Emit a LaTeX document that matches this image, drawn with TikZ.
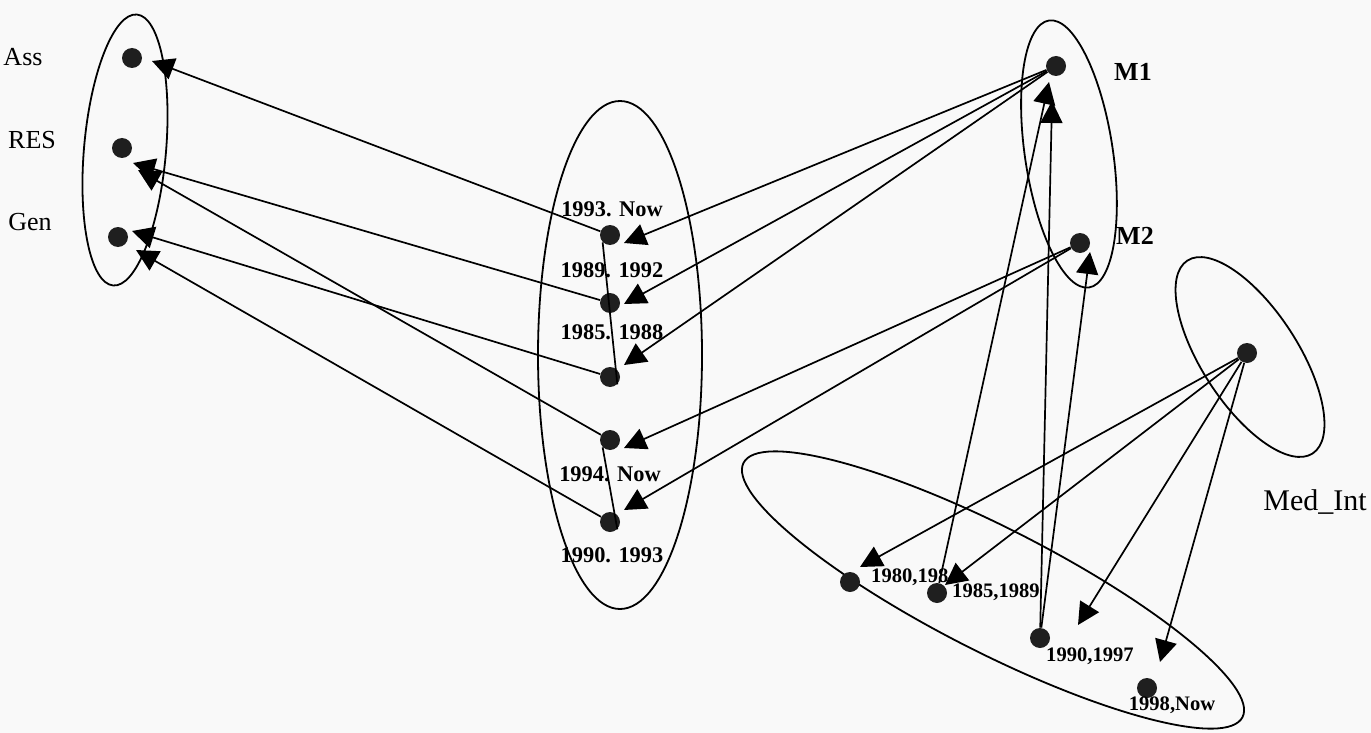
\documentclass[tikz,border=0pt]{standalone}
\usepackage{fontspec}
\setmainfont{Liberation Serif}
\usetikzlibrary{arrows.meta}
\begin{document}
\begin{tikzpicture}[x=0.5pt,y=-0.5pt,
  dot/.style={circle,fill=black!88,inner sep=0pt,minimum size=10pt},
  arr/.style={-{Triangle[length=11pt,width=11pt]},line width=0.85pt},
  ln/.style={line width=0.85pt},
  ell/.style={line width=0.9pt},
  lbl/.style={font=\fontsize{13}{15}\selectfont,inner sep=0pt},
  big/.style={font=\fontsize{15}{17}\selectfont,inner sep=0pt},
  mlab/.style={font=\bfseries\fontsize{13}{15}\selectfont,inner sep=0pt},
  yr/.style={font=\bfseries\fontsize{11.2}{13}\selectfont,inner sep=0pt},
  yrs/.style={font=\bfseries\fontsize{10.3}{12}\selectfont,inner sep=0pt}]
\fill[gray!5] (0,0) rectangle (1371,733);
\useasboundingbox (0,0) rectangle (1371,733);

% ellipse centres
\coordinate (cL) at (125,150);
\coordinate (cMid) at (620,355);
\coordinate (cR) at (1069,154);
\coordinate (cMed) at (1250,357);
\coordinate (cLow) at (993,590);

\draw[ell,rotate around={-5:(cL)}] (cL) ellipse [x radius=41,y radius=136];
\draw[ell] (cMid) ellipse [x radius=82,y radius=254];
\draw[ell,rotate around={8.5:(cR)}] (cR) ellipse [x radius=44,y radius=135];
\draw[ell,rotate around={-57:(cMed)}] (cMed) ellipse [x radius=115,y radius=48];
\draw[ell,rotate around={-27:(cLow)}] (cLow) ellipse [x radius=280,y radius=62];

% left object
\node[dot] (ass) at (132,58) {};
\node[dot] (res) at (122,148) {};
\node[dot] (gen) at (118,237) {};
\node[lbl] at (23,57) {Ass};
\node[lbl] at (32,140) {RES};
\node[lbl] at (30,222) {Gen};

% middle object
\node[dot] (m93) at (610,235) {};
\node[dot] (m89) at (610,303) {};
\node[dot] (m85) at (610,377) {};
\node[dot] (m94) at (610,440) {};
\node[dot] (m90) at (610,522) {};
\node[yr] at (612,209) {1993. Now};
\node[yr] at (612,270) {1989. 1992};
\node[yr] at (612,332) {1985. 1988};
\node[yr] at (610,474) {1994. Now};
\node[yr] at (612,555) {1990. 1993};

% right objects
\node[dot] (M1) at (1056,66) {};
\node[dot] (M2) at (1080,243) {};
\node[mlab] at (1133,72) {M1};
\node[mlab] at (1135,236) {M2};
\node[dot] (med) at (1247,353) {};
\node[big] at (1315,502) {Med\_Int};

% lower object
\node[dot] (l80) at (850,582) {};
\node[dot] (l85) at (937,593) {};
\node[dot] (l90) at (1040,638) {};
\node[dot] (l98) at (1147,688) {};
\node[yrs] at (915,577) {1980,1984};
\node[yrs] at (996,592) {1985,1989};
\node[yrs] at (1090,656) {1990,1997};
\node[yrs] at (1172,705) {1998,Now};

% arrow tips
\coordinate (tAss) at (152,61);
\coordinate (tRes1) at (133,163);
\coordinate (tRes2) at (138,170);
\coordinate (tGen1) at (132,231);
\coordinate (tGen2) at (136,250);
\coordinate (t93) at (624,243);
\coordinate (t89) at (624,304);
\coordinate (t85) at (624,365);
\coordinate (t94) at (624,448);
\coordinate (t90) at (624,510);
\coordinate (tM1a) at (1049,82);
\coordinate (tM1b) at (1052,101);
\coordinate (tM2) at (1090,252);
\coordinate (t80) at (860,567);
\coordinate (t85b) at (945,585);
\coordinate (t90b) at (1078,625);
\coordinate (t98) at (1160,662);

% middle -> left
\draw[arr] (m93) -- (tAss);
\draw[arr] (m89) -- (tRes1);
\draw[arr] (m94) -- (tRes2);
\draw[arr] (m85) -- (tGen1);
\draw[arr] (m90) -- (tGen2);
% state chains
\draw[ln] (m93.south west) -- (m85.south east);
\draw[ln] (m94.south west) -- (m90.south east);
% M1, M2 -> middle
\draw[arr] (M1) -- (t93);
\draw[arr] (M1) -- (t89);
\draw[arr] (M1) -- (t85);
\draw[arr] (M2) -- (t94);
\draw[arr] (M2) -- (t90);
% lower -> M1, M2
\draw[arr] (l85) -- (tM1a);
\draw[arr] (l90) -- (tM1b);
\draw[arr] (l90) -- (tM2);
% Med_Int -> lower
\draw[arr] (med) -- (t80);
\draw[arr] (med) -- (t85b);
\draw[arr] (med) -- (t90b);
\draw[arr] (med) -- (t98);
\end{tikzpicture}
\end{document}
